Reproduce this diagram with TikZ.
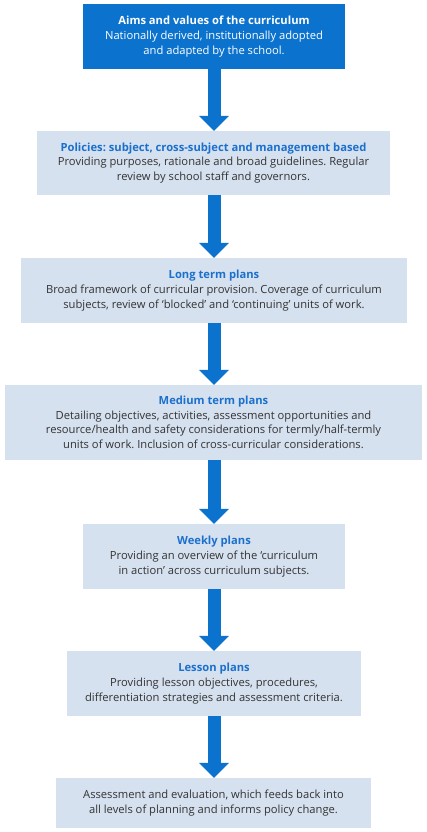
\documentclass[tikz,border=0pt]{standalone}
\usepackage{fontspec}
\setmainfont{Open Sans}
\usepackage{xcolor}
\usepackage{tikz}
\usetikzlibrary{arrows.meta,positioning}
\frenchspacing

\definecolor{darkblue}{HTML}{0B72CE}
\definecolor{paleblue}{HTML}{D6E1F0}
\definecolor{headblue}{HTML}{1A70CC}
\definecolor{bodygrey}{HTML}{333333}

\begin{document}
\begin{tikzpicture}[x=1pt,y=1pt,
    plan/.style={fill=paleblue,text=bodygrey,align=center,inner sep=0pt,font=\fontsize{11.2}{14.6}\selectfont},
    aims/.style={plan,fill=darkblue,text=white},
    down/.style={-{Triangle[width=29pt,length=15pt]},line width=13pt,darkblue,shorten <=-0.5pt}]
    \useasboundingbox (0,0) rectangle (426,-832);
    \node[aims,minimum width=262pt,minimum height=65pt] (aims) at (214,-36.5)
        {\textbf{Aims and values of the curriculum}\\Nationally derived, institutionally adopted\\and adapted by the school.};
    \node[plan,minimum width=353pt,minimum height=64pt] (policy) at (213.5,-163)
        {\textbf{\color{headblue}Policies: subject, cross-subject and management based}\\Providing purposes, rationale and broad guidelines. Regular\\review by school staff and governors.};
    \node[plan,minimum width=386pt,minimum height=65pt] (long) at (214,-290.5)
        {\textbf{\color{headblue}Long term plans}\\Broad framework of curricular provision. Coverage of curriculum\\subjects, review of `blocked' and `continuing' units of work.};
    \node[plan,minimum width=417pt,minimum height=75pt] (medium) at (213.5,-422.5)
        {\textbf{\color{headblue}Medium term plans}\\Detailing objectives, activities, assessment opportunities and\\resource/health and safety considerations for termly/half-termly\\units of work. Inclusion of cross-curricular considerations.};
    \node[plan,minimum width=262pt,minimum height=65pt] (weekly) at (214,-556.5)
        {\textbf{\color{headblue}Weekly plans}\\Providing an overview of the `curriculum\\in action' across curriculum subjects.};
    \node[plan,minimum width=294pt,minimum height=65pt] (lesson) at (214,-683.5)
        {\textbf{\color{headblue}Lesson plans}\\Providing lesson objectives, procedures,\\differentiation strategies and assessment criteria.};
    \node[plan,minimum width=315pt,minimum height=50pt] (assess) at (213.5,-803)
        {Assessment and evaluation, which feeds back into\\all levels of planning and informs policy change.};
    % arrows down the chain
    \foreach \a/\b in {aims/policy,policy/long,long/medium,medium/weekly,weekly/lesson,lesson/assess}
        \draw[down] (\a.south -| 214,0) -- (\b.north -| 214,0);
\end{tikzpicture}
\end{document}
